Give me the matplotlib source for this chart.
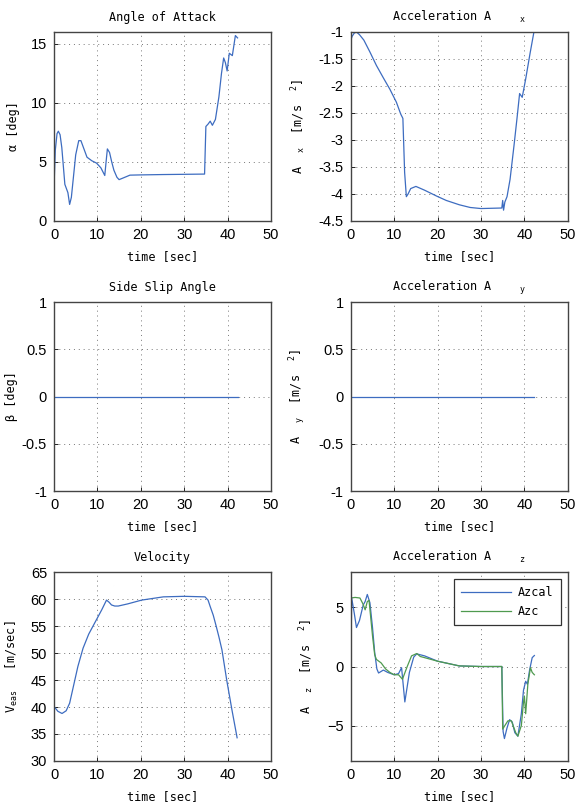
import numpy as np
import matplotlib
matplotlib.use('Agg')
import matplotlib.pyplot as plt

# --- data ---
t_alpha = [0, 0.3, 0.7, 1.0, 1.4, 1.8, 2.5, 3.2, 3.6, 4.0, 4.5, 5.0, 5.7, 6.2, 6.8, 7.6,
           8.7, 9.8, 10.8, 11.7, 12.0, 12.3, 12.8, 13.3, 13.8, 14.5, 15.0, 16.0, 17.5, 20,
           25, 30, 34.7, 35.0, 35.5, 36.0, 36.5, 37.2, 38.0, 38.6, 39.1, 39.5, 39.9, 40.4,
           41.1, 41.8, 42.3]
alpha = [2.9, 6.0, 7.4, 7.6, 7.3, 6.2, 3.1, 2.4, 1.4, 2.0, 3.8, 5.6, 6.8, 6.8, 6.2, 5.4,
         5.1, 4.9, 4.5, 3.85, 5.0, 6.1, 5.8, 5.0, 4.3, 3.7, 3.5, 3.65, 3.88, 3.9,
         3.93, 3.95, 3.97, 8.0, 8.2, 8.45, 8.1, 8.6, 10.5, 12.5, 13.8, 13.4, 12.7, 14.2,
         14.0, 15.7, 15.5]

t_ax = [0, 0.3, 0.8, 1.3, 2.0, 3.0, 4.4, 5.9, 7.5, 9.0, 10.5, 11.5, 12.0, 12.4, 12.8,
        13.2, 13.8, 15.0, 17.0, 19.8, 22.0, 25.0, 27.5, 30.0, 34.8, 35.0, 35.2, 35.5,
        36.0, 36.7, 37.6, 38.3, 38.9, 39.5, 40.3, 41.3, 42.2, 42.5]
ax_acc = [-1.15, -1.08, -1.02, -1.0, -1.05, -1.15, -1.37, -1.62, -1.85, -2.06, -2.3, -2.52,
          -2.6, -3.6, -4.05, -4.0, -3.9, -3.86, -3.93, -4.04, -4.12, -4.2, -4.25, -4.27,
          -4.26, -4.12, -4.3, -4.15, -4.05, -3.73, -3.11, -2.6, -2.14, -2.21, -1.87, -1.4,
          -1.0, -0.85]

t_beta = [0, 42.3]
beta = [0, 0]

t_ay = [0, 42.3]
ay = [0, 0]

t_v = [0, 0.9, 1.85, 2.8, 3.6, 4.8, 5.5, 6.7, 8.0, 9.8, 11.0, 12.1, 12.7, 13.25, 14.0,
       14.8, 17, 20.2, 25.2, 30, 34.8, 35.5, 36.0, 36.7, 37.4, 38.0, 38.7, 39.8, 41.0,
       42.2]
veas = [40.1, 39.2, 38.8, 39.3, 40.7, 45.0, 47.5, 50.9, 53.5, 56.2, 58.0, 59.8, 59.4,
        58.9, 58.7, 58.7, 59.1, 59.8, 60.4, 60.5, 60.4, 59.8, 58.6, 57.0, 54.9, 53.0,
        50.6, 45.0, 39.5, 34.3]

t_azcal = [0, 0.2, 0.8, 1.3, 2.0, 2.85, 3.3, 3.8, 4.4, 5.0, 5.5, 6.0, 6.4, 7.5, 8.5, 10.0,
           11.0, 11.7, 12.45, 13.5, 14.5, 15.2, 17, 20, 25, 30, 34.8, 35.1, 35.4, 36.0,
           36.6, 37.2, 37.8, 38.5, 39.3, 39.8, 40.3, 40.7, 41.2, 41.8, 42.3]
azcal = [0, 5.8, 4.5, 3.3, 3.9, 5.2, 5.5, 6.1, 5.4, 3.3, 1.2, -0.2, -0.55, -0.3, -0.5, -0.7,
         -0.6, -0.1, -3.0, -0.5, 0.8, 1.07, 0.9, 0.45, 0.05, 0.0, 0.0, -5.5, -6.1, -5.2,
         -4.5, -4.7, -5.6, -5.9, -4.0, -2.0, -1.25, -1.5, -0.3, 0.75, 0.93]

t_azc = [0, 1.0, 2.1, 2.8, 3.3, 3.8, 4.2, 5.0, 5.5, 5.9, 7.0, 8.0, 9.0, 10.0, 11.0, 11.9,
         13.0, 14.0, 15.2, 16.0, 20, 25, 30, 34.8, 35.0, 35.5, 36.2, 37.0, 38.0, 38.5,
         39.3, 39.8, 40.0, 40.3, 40.8, 41.4, 41.8, 42.3]
azc = [5.8, 5.85, 5.8, 5.3, 4.8, 5.5, 5.6, 2.6, 1.0, 0.6, 0.3, -0.2, -0.5, -0.7, -0.7, -1.08,
       0.0, 0.9, 1.1, 0.85, 0.45, 0.05, 0.0, 0.0, -5.3, -5.0, -4.6, -4.6, -5.6, -5.9,
       -5.0, -3.0, -2.5, -4.0, -1.5, -0.1, -0.5, -0.7]

blue = '#3d6cc0'
green = '#4f9a4f'

plt.rcParams['font.family'] = ['DejaVu Sans Mono']
plt.rcParams['mathtext.default'] = 'regular'
tickfont = ['Liberation Sans Narrow', 'DejaVu Sans Condensed', 'Liberation Sans']
fs = 8.5

fig = plt.figure(figsize=(5.77, 8.10), dpi=100)

lefts = [0.0936, 0.608]
bottoms = [0.7272, 0.3938, 0.0605]
w, h = 0.376, 0.2333


def make_axes(col, row):
    a = fig.add_axes([lefts[col], bottoms[row], w, h])
    a.set_xlim(0, 50)
    a.set_xticks([0, 10, 20, 30, 40, 50])
    a.grid(True, linestyle=(0, (1, 4)), color='#777777', linewidth=0.7)
    a.tick_params(direction='in', length=3, width=0.6, labelsize=10.5, pad=5)
    for s in a.spines.values():
        s.set_color('#444444')
        s.set_linewidth(1.0)
    a.set_xlabel('time [sec]', fontsize=fs, labelpad=6)
    return a


def fix_ticks(a):
    for lab in a.get_xticklabels() + a.get_yticklabels():
        lab.set_family(tickfont)


# Angle of attack
a1 = make_axes(0, 0)
a1.plot(t_alpha, alpha, color=blue, linewidth=0.9)
a1.set_ylim(0, 16)
a1.set_yticks([0, 5, 10, 15])
a1.set_title('Angle of Attack', fontsize=fs, pad=8)
a1.set_ylabel('α [deg]', fontsize=fs, labelpad=8)
fix_ticks(a1)

# Acceleration Ax
a2 = make_axes(1, 0)
a2.plot(t_ax, ax_acc, color=blue, linewidth=0.9)
a2.set_ylim(-4.5, -1)
a2.set_yticks([-4.5, -4, -3.5, -3, -2.5, -2, -1.5, -1])
a2.set_yticklabels(['-4.5', '-4', '-3.5', '-3', '-2.5', '-2', '-1.5', '-1'])
a2.set_title('Acceleration A    $_{x}$', fontsize=fs, pad=8)
a2.set_ylabel('A  $_{x}$  [m/s  $^{2}$]', fontsize=fs, labelpad=8)
fix_ticks(a2)

# Side slip
a3 = make_axes(0, 1)
a3.plot(t_beta, beta, color=blue, linewidth=0.9)
a3.set_ylim(-1, 1)
a3.set_yticks([-1, -0.5, 0, 0.5, 1])
a3.set_yticklabels(['-1', '-0.5', '0', '0.5', '1'])
a3.set_title('Side Slip Angle', fontsize=fs, pad=8)
a3.set_ylabel('β [deg]', fontsize=fs, labelpad=3)
fix_ticks(a3)

# Acceleration Ay
a4 = make_axes(1, 1)
a4.plot(t_ay, ay, color=blue, linewidth=0.9)
a4.set_ylim(-1, 1)
a4.set_yticks([-1, -0.5, 0, 0.5, 1])
a4.set_yticklabels(['-1', '-0.5', '0', '0.5', '1'])
a4.set_title('Acceleration A    $_{y}$', fontsize=fs, pad=8)
a4.set_ylabel('A  $_{y}$  [m/s  $^{2}$]', fontsize=fs, labelpad=8)
fix_ticks(a4)

# Velocity
a5 = make_axes(0, 2)
a5.plot(t_v, veas, color=blue, linewidth=0.9)
a5.set_ylim(30, 65)
a5.set_yticks([30, 35, 40, 45, 50, 55, 60, 65])
a5.set_title('Velocity', fontsize=fs, pad=8)
a5.set_ylabel('V$_{eas}$   [m/sec]', fontsize=fs, labelpad=8)
fix_ticks(a5)

# Acceleration Az
a6 = make_axes(1, 2)
a6.plot(t_azcal, azcal, color=blue, linewidth=0.9, label='Azcal')
a6.plot(t_azc, azc, color=green, linewidth=0.9, label='Azc')
a6.set_ylim(-8, 8)
a6.set_yticks([-5, 0, 5])
a6.set_title('Acceleration A    $_{z}$', fontsize=fs, pad=8)
a6.set_ylabel('A  $_{z}$  [m/s  $^{2}$]', fontsize=fs, labelpad=8)
fix_ticks(a6)
leg = a6.legend(loc='upper right', fontsize=fs, fancybox=False, framealpha=1,
                edgecolor='#333333', borderpad=0.6, handlelength=4.2,
                handletextpad=0.6, borderaxespad=0.6)
leg.get_frame().set_linewidth(0.9)

fig.savefig('out.png', dpi=100)
